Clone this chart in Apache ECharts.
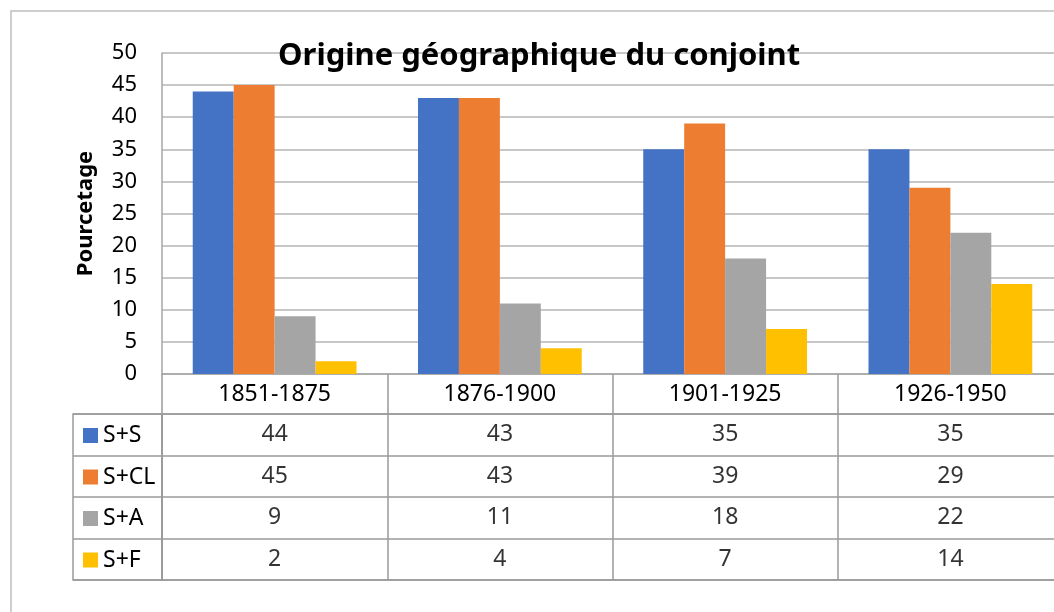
<!DOCTYPE html>
<html>
<head>
<meta charset="utf-8">
<script src="https://cdn.jsdelivr.net/npm/echarts@6/dist/echarts.min.js"></script>
<style>
  html, body { margin: 0; background: #fff; }
  #chart1 { width: 1054px; height: 612px; }
</style>
</head>
<body>
<div id="chart1"></div>
<script>
// data
const periods = ['1851-1875', '1876-1900', '1901-1925', '1926-1950'];
const seriesNames = ['S+S', 'S+CL', 'S+A', 'S+F'];
const valSS = [44, 43, 35, 35];
const valSCL = [45, 43, 39, 29];
const valSA = [9, 11, 18, 22];
const valSF = [2, 4, 7, 14];

const allValues = [valSS, valSCL, valSA, valSF];
const colors = ['#4472C4', '#ED7D31', '#A5A5A5', '#FFC000'];
const font = '"Noto Sans", sans-serif';
const lineGray = '#a6a6a6';
const tableGray = '#9a9a9a';
const rowH = 41.5;
const tableTop = 414;

const chartDom = document.getElementById('chart1');
const myChart = echarts.init(chartDom);

// cells of the data table: [colonne, ligne, valeur]
const tableCells = [];
allValues.forEach((vals, row) => {
    vals.forEach((v, col) => tableCells.push([col, row, v]));
});

// one legend per table row so the keys sit in their row
const legends = seriesNames.map((name, i) => ({
    data: [name],
    orient: 'vertical',
    left: 83,
    top: tableTop + i * rowH + 10,
    padding: 0,
    itemWidth: 15,
    itemHeight: 15,
    icon: 'rect',
    selectedMode: false,
    textStyle: { fontSize: 23, color: '#000' }
}));

const option = {
    animation: false,
    textStyle: { fontFamily: font },
    title: {
        text: 'Origine géographique du conjoint',
        left: 278,
        top: 41,
        padding: 0,
        textStyle: { fontSize: 31, fontWeight: 'bold', color: '#000', fontFamily: font }
    },
    legend: legends,
    graphic: [{
        type: 'rect',
        z: -1,
        shape: { x: 11, y: 11, width: 1200, height: 800 },
        style: { fill: 'none', stroke: '#bfbfbf', lineWidth: 1.5 }
    }],
    grid: [
        { left: 162, top: 53, width: 901, height: 321, outerBoundsMode: 'none' },
        { left: 162, top: tableTop, width: 901, height: rowH * 4, outerBoundsMode: 'none', show: true, borderColor: tableGray, borderWidth: 1.5 },
        { left: 73, top: tableTop, width: 89, height: rowH * 4, outerBoundsMode: 'none', show: true, borderColor: tableGray, borderWidth: 1.5 }
    ],
    xAxis: [
        {
            type: 'category',
            gridIndex: 0,
            data: periods,
            axisLine: { lineStyle: { color: lineGray, width: 1.5 } },
            axisTick: { show: true, length: 40, lineStyle: { color: tableGray, width: 1.5 } },
            axisLabel: { fontSize: 23, color: '#000', margin: 20, verticalAlign: 'middle' }
        },
        {
            type: 'category',
            gridIndex: 1,
            data: periods,
            axisLine: { show: false },
            axisTick: { show: false },
            axisLabel: { show: false },
            splitLine: { show: true, lineStyle: { color: tableGray, width: 1.5 } }
        },
        {
            type: 'category',
            gridIndex: 2,
            data: [''],
            axisLine: { show: false },
            axisTick: { show: false },
            axisLabel: { show: false }
        }
    ],
    yAxis: [
        {
            type: 'value',
            gridIndex: 0,
            min: 0,
            max: 50,
            interval: 5,
            name: 'Pourcetage',
            nameLocation: 'middle',
            nameGap: 65,
            nameTextStyle: { fontSize: 22, fontWeight: 'bold', color: '#000' },
            axisLine: { show: true, lineStyle: { color: lineGray, width: 1.5 } },
            axisTick: { show: false },
            axisLabel: { fontSize: 22, color: '#000', margin: 25 },
            splitLine: { lineStyle: { color: '#b4b4b4', width: 1.5 } }
        },
        {
            type: 'category',
            gridIndex: 1,
            data: seriesNames,
            inverse: true,
            axisLine: { show: false },
            axisTick: { show: false },
            axisLabel: { show: false },
            splitLine: { show: true, lineStyle: { color: tableGray, width: 1.5 } }
        },
        {
            type: 'category',
            gridIndex: 2,
            data: seriesNames,
            inverse: true,
            axisLine: { show: false },
            axisTick: { show: false },
            axisLabel: { show: false },
            splitLine: { show: true, lineStyle: { color: tableGray, width: 1.5 } }
        }
    ],
    series: [
        ...seriesNames.map((name, i) => ({
            name: name,
            type: 'bar',
            xAxisIndex: 0,
            yAxisIndex: 0,
            barGap: 0,
            barCategoryGap: '27.3%',
            itemStyle: { color: colors[i] },
            data: allValues[i]
        })),
        {
            name: 'table',
            type: 'scatter',
            xAxisIndex: 1,
            yAxisIndex: 1,
            symbolSize: 0,
            silent: true,
            label: {
                show: true,
                position: 'inside',
                fontSize: 23,
                color: '#000',
                formatter: p => p.value[2]
            },
            data: tableCells
        }
    ]
};

myChart.setOption(option);
</script>
</body>
</html>
